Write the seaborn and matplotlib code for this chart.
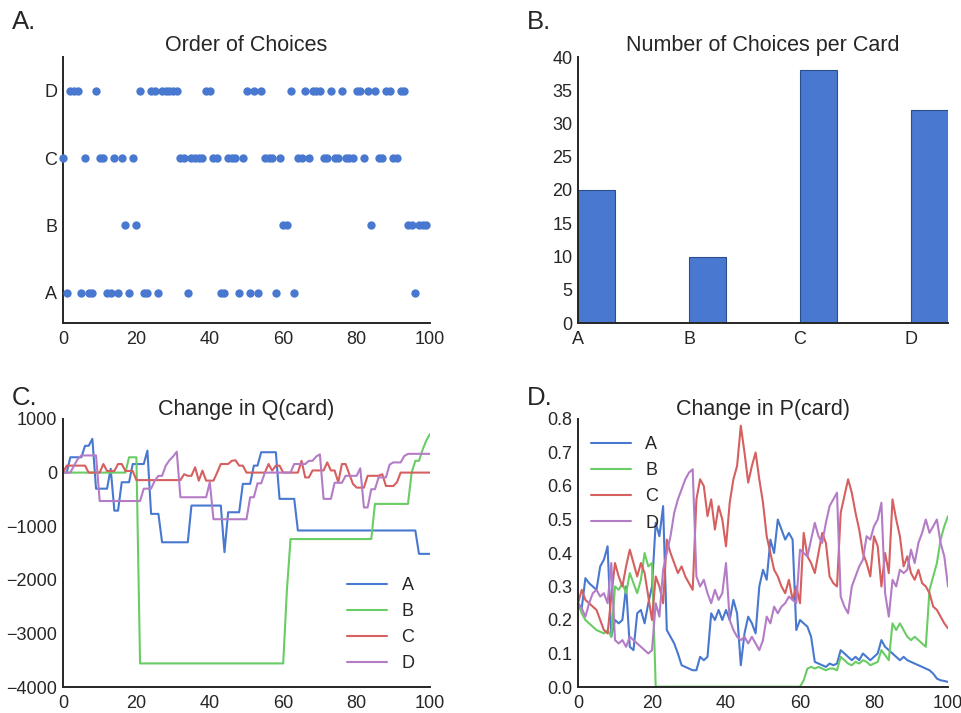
import numpy as np
import pandas as pd
import matplotlib
matplotlib.use("Agg")
import matplotlib.pyplot as plt
import seaborn as sns

# ---------------- data ----------------
cards = ["A", "B", "C", "D"]
# choice made on each trial 0..99
choices = list(
    "CADDDACAAD"
    "CCAACACBAC"
    "BDAADDADDD"
    "DDCCACCCCD"
    "DCCAACCCAC"
    "DADADCCCAC"
    "BBDACCDCDD"
    "DCCDCCDCCC"
    "DDCDBDCCDD"
    "CCDDBBABBB"
)
counts = [20, 10, 38, 32]

trial_axis = list(range(101))

q_a = [0, 0, 286, 286, 286, 286, 500, 500, 630, -300,
       -300, -300, -300, 70, -710, -710, -180, -180, -180, 160,
       160, 160, 160, 410, -770, -770, -770, -1300, -1300, -1300,
       -1300, -1300, -1300, -1300, -1300, -615, -615, -615, -615, -615,
       -615, -615, -615, -615, -1484, -740, -740, -740, -740, -210,
       -210, -210, 130, 130, 380, 380, 380, 380, 380, -490,
       -490, -490, -490, -490, -1080, -1080, -1080, -1080, -1080, -1080,
       -1080, -1080, -1080, -1080, -1080, -1080, -1080, -1080, -1080, -1080,
       -1080, -1080, -1080, -1080, -1080, -1080, -1080, -1080, -1080, -1080,
       -1080, -1080, -1080, -1080, -1080, -1080, -1080, -1516, -1516, -1516,
       -1516]
q_b = [0, 0, 0, 0, 0, 0, 0, 0, 0, 0,
       0, 0, 0, 0, 0, 0, 0, 0, 286, 286,
       286, -3560, -3560, -3560, -3560, -3560, -3560, -3560, -3560, -3560,
       -3560, -3560, -3560, -3560, -3560, -3560, -3560, -3560, -3560, -3560,
       -3560, -3560, -3560, -3560, -3560, -3560, -3560, -3560, -3560, -3560,
       -3560, -3560, -3560, -3560, -3560, -3560, -3560, -3560, -3560, -3560,
       -3560, -2200, -1240, -1240, -1240, -1240, -1240, -1240, -1240, -1240,
       -1240, -1240, -1240, -1240, -1240, -1240, -1240, -1240, -1240, -1240,
       -1240, -1240, -1240, -1240, -1240, -584, -584, -584, -584, -584,
       -584, -584, -584, -584, -584, 0, 220, 220, 430, 600,
       720]
q_c = [0, 130, 130, 130, 130, 130, 130, 0, 0, 0,
       0, 160, 30, 30, 30, 160, 160, 30, 30, 30,
       -140, -140, -140, -140, -140, -140, -140, -140, -140, -140,
       -140, -140, -140, -30, -60, -60, 100, -150, 37, -150,
       -150, -150, 0, 160, 160, 160, 220, 230, 130, 130,
       0, 0, 0, 0, 0, 0, 160, 37, 130, 130,
       0, 0, 0, 0, 0, 220, -90, -90, 40, 40,
       40, 40, 190, 40, 40, -180, 160, 160, -25, -210,
       -280, -280, -280, -60, -60, -60, -60, -30, -250, -250,
       -250, -180, 0, 0, 0, 0, 0, 0, 0, 0,
       0]
q_d = [0, 0, 0, 130, 250, 320, 320, 320, 320, 320,
       -530, -530, -530, -530, -530, -530, -530, -530, -530, -530,
       -530, -530, -300, -300, -300, -150, -60, -60, 130, 230,
       300, 390, -460, -460, -460, -460, -460, -460, -460, -460,
       -180, -870, -870, -870, -870, -870, -870, -870, -870, -870,
       -870, -460, -460, -200, -200, 0, 0, 0, 0, 0,
       0, 0, 0, 160, 160, 160, 160, 220, 220, 300,
       340, -490, -490, -490, -190, -190, -190, -60, -60, -60,
       -60, 80, -650, -650, -310, -310, -90, -90, -90, 150,
       190, 190, 190, 310, 350, 350, 350, 350, 350, 350,
       350]

p_a = [.25, .235, .325, .31, .30, .29, .36, .38, .42, .15,
       .20, .19, .20, .30, .12, .11, .22, .23, .19, .25,
       .30, .49, .45, .54, .17, .15, .13, .10, .065, .06,
       .055, .05, .05, .09, .08, .09, .22, .20, .23, .20,
       .23, .20, .26, .22, .065, .16, .21, .19, .16, .30,
       .35, .32, .44, .40, .50, .47, .44, .46, .44, .17,
       .20, .19, .18, .15, .075, .07, .065, .06, .07, .065,
       .07, .11, .10, .09, .08, .09, .08, .10, .09, .08,
       .09, .10, .14, .12, .11, .10, .09, .08, .09, .08,
       .075, .07, .065, .06, .055, .05, .04, .025, .02, .018,
       .015]
p_b = [.25, .22, .20, .19, .18, .17, .165, .16, .17, .15,
       .30, .29, .31, .28, .34, .31, .28, .32, .40, .36,
       .37, .001, .001, .001, .001, .001, .001, .001, .001, .001,
       .001, .001, .001, .001, .001, .001, .001, .001, .001, .001,
       .001, .001, .001, .001, .001, .001, .001, .001, .001, .001,
       .001, .001, .001, .001, .001, .001, .001, .001, .001, .001,
       .001, .02, .055, .06, .055, .06, .055, .05, .055, .055,
       .05, .09, .08, .07, .065, .075, .07, .08, .075, .065,
       .07, .075, .11, .095, .08, .19, .17, .19, .17, .15,
       .14, .15, .14, .13, .12, .29, .33, .37, .44, .48,
       .51]
p_c = [.25, .29, .26, .25, .24, .23, .20, .17, .16, .27,
       .37, .33, .30, .36, .41, .37, .33, .37, .34, .27,
       .20, .33, .30, .25, .44, .40, .37, .34, .36, .33,
       .31, .29, .56, .62, .60, .51, .56, .47, .54, .50,
       .42, .55, .62, .66, .78, .70, .61, .66, .70, .62,
       .55, .45, .40, .35, .33, .30, .28, .32, .26, .30,
       .25, .46, .39, .37, .34, .40, .46, .43, .33, .31,
       .30, .52, .57, .62, .58, .52, .47, .40, .37, .33,
       .45, .42, .30, .40, .34, .56, .50, .45, .36, .39,
       .34, .32, .35, .31, .30, .28, .24, .23, .21, .19,
       .175]
p_d = [.25, .235, .21, .25, .28, .29, .27, .28, .25, .37,
       .14, .13, .14, .12, .15, .14, .13, .12, .11, .10,
       .11, .25, .21, .35, .40, .45, .52, .56, .59, .62,
       .64, .65, .33, .30, .32, .28, .25, .29, .26, .28,
       .37, .20, .17, .15, .14, .15, .13, .15, .13, .11,
       .14, .21, .19, .24, .22, .24, .25, .27, .26, .25,
       .41, .40, .39, .44, .49, .45, .43, .49, .54, .56,
       .58, .27, .24, .22, .30, .33, .36, .38, .45, .44,
       .48, .50, .55, .28, .21, .32, .30, .35, .34, .35,
       .41, .37, .43, .46, .50, .46, .48, .50, .43, .39,
       .30]

# ---------------- style ----------------
sns.set_style("white")
plt.rcParams["font.family"] = ["Liberation Sans", "DejaVu Sans"]
plt.rcParams["axes.edgecolor"] = "#262626"
plt.rcParams["axes.linewidth"] = 1.4

colors = ["#4878CF", "#6ACC65", "#D65F5F", "#B47CC7"]
palette = dict(zip(cards, colors))
TICK = 13
TITLE = 15.5

fig = plt.figure(figsize=(9.61, 7.13), dpi=100)
W, H = 961, 713


def rect(x0, y0, x1, y1):
    return [x0 / W, 1 - y1 / H, (x1 - x0) / W, (y1 - y0) / H]


axA = fig.add_axes(rect(63, 57, 430, 323))
axB = fig.add_axes(rect(578, 57, 948, 323))
axC = fig.add_axes(rect(63, 419, 430, 687))
axD = fig.add_axes(rect(578, 419, 948, 687))

# ---- A: order of choices ----
dfA = pd.DataFrame({"trial": range(len(choices)),
                    "pos": [cards.index(c) for c in choices]})
sns.scatterplot(data=dfA, x="trial", y="pos", ax=axA, color=colors[0],
                s=36, linewidth=0, clip_on=False, zorder=3)
axA.set_xlim(0, 100)
axA.set_ylim(-0.45, 3.5)
axA.set_yticks(range(4))
axA.set_yticklabels(cards)
axA.set_xticks(range(0, 101, 20))
axA.set_xlabel("")
axA.set_ylabel("")
axA.set_title("Order of Choices", fontsize=TITLE, pad=4)

# ---- B: number of choices ----
bw = 0.333
sns.barplot(x=cards, y=counts, ax=axB, color=colors[0], width=bw,
            saturation=1, edgecolor="#2a4f8f", linewidth=0.8)
axB.set_xlim(-bw / 2, 3 + bw / 2)
axB.set_xticks([i - bw / 2 for i in range(4)])
axB.set_xticklabels(cards)
axB.set_ylim(0, 40)
axB.set_yticks(range(0, 41, 5))
axB.set_title("Number of Choices per Card", fontsize=TITLE, pad=4)

# ---- C: Q values ----
dfQ = pd.DataFrame({"trial": trial_axis * 4,
                    "value": q_a + q_b + q_c + q_d,
                    "card": sum([[c] * len(trial_axis) for c in cards], [])})
sns.lineplot(data=dfQ, x="trial", y="value", hue="card", palette=palette,
             ax=axC, linewidth=1.5)
axC.set_xlim(0, 100)
axC.set_ylim(-4000, 1000)
axC.set_yticks(range(-4000, 1001, 1000))
axC.set_xticks(range(0, 101, 20))
axC.set_xlabel("")
axC.set_ylabel("")
axC.set_title("Change in Q(card)", fontsize=TITLE, pad=3)
axC.legend(loc="upper left", bbox_to_anchor=(0.775, 0.41), frameon=False,
           fontsize=TICK, handlelength=2.2, borderaxespad=0, borderpad=0,
           labelspacing=0.5)

# ---- D: P values ----
dfP = pd.DataFrame({"trial": trial_axis * 4,
                    "value": p_a + p_b + p_c + p_d,
                    "card": sum([[c] * len(trial_axis) for c in cards], [])})
sns.lineplot(data=dfP, x="trial", y="value", hue="card", palette=palette,
             ax=axD, linewidth=1.5)
axD.set_xlim(0, 100)
axD.set_ylim(0, 0.8)
axD.set_yticks(np.arange(0, 0.81, 0.1))
axD.set_yticklabels([f"{v:.1f}" for v in np.arange(0, 0.81, 0.1)])
axD.set_xticks(range(0, 101, 20))
axD.set_xlabel("")
axD.set_ylabel("")
axD.set_title("Change in P(card)", fontsize=TITLE, pad=3)
axD.legend(loc="upper left", bbox_to_anchor=(0.035, 0.935), frameon=False,
           fontsize=TICK, handlelength=2.2, borderaxespad=0, borderpad=0,
           labelspacing=0.5)

for ax in (axA, axB, axC, axD):
    sns.despine(ax=ax)
    ax.tick_params(labelsize=TICK, length=0)
    ax.tick_params(axis="x", pad=6)
    ax.tick_params(axis="y", pad=4)

for txt, x, y in (("A.", 12, 22), ("B.", 527, 22), ("C.", 12, 398), ("D.", 527, 398)):
    fig.text(x / W, 1 - y / H, txt, fontsize=18.5, va="center", ha="left")

fig.savefig("out.png", dpi=100)
